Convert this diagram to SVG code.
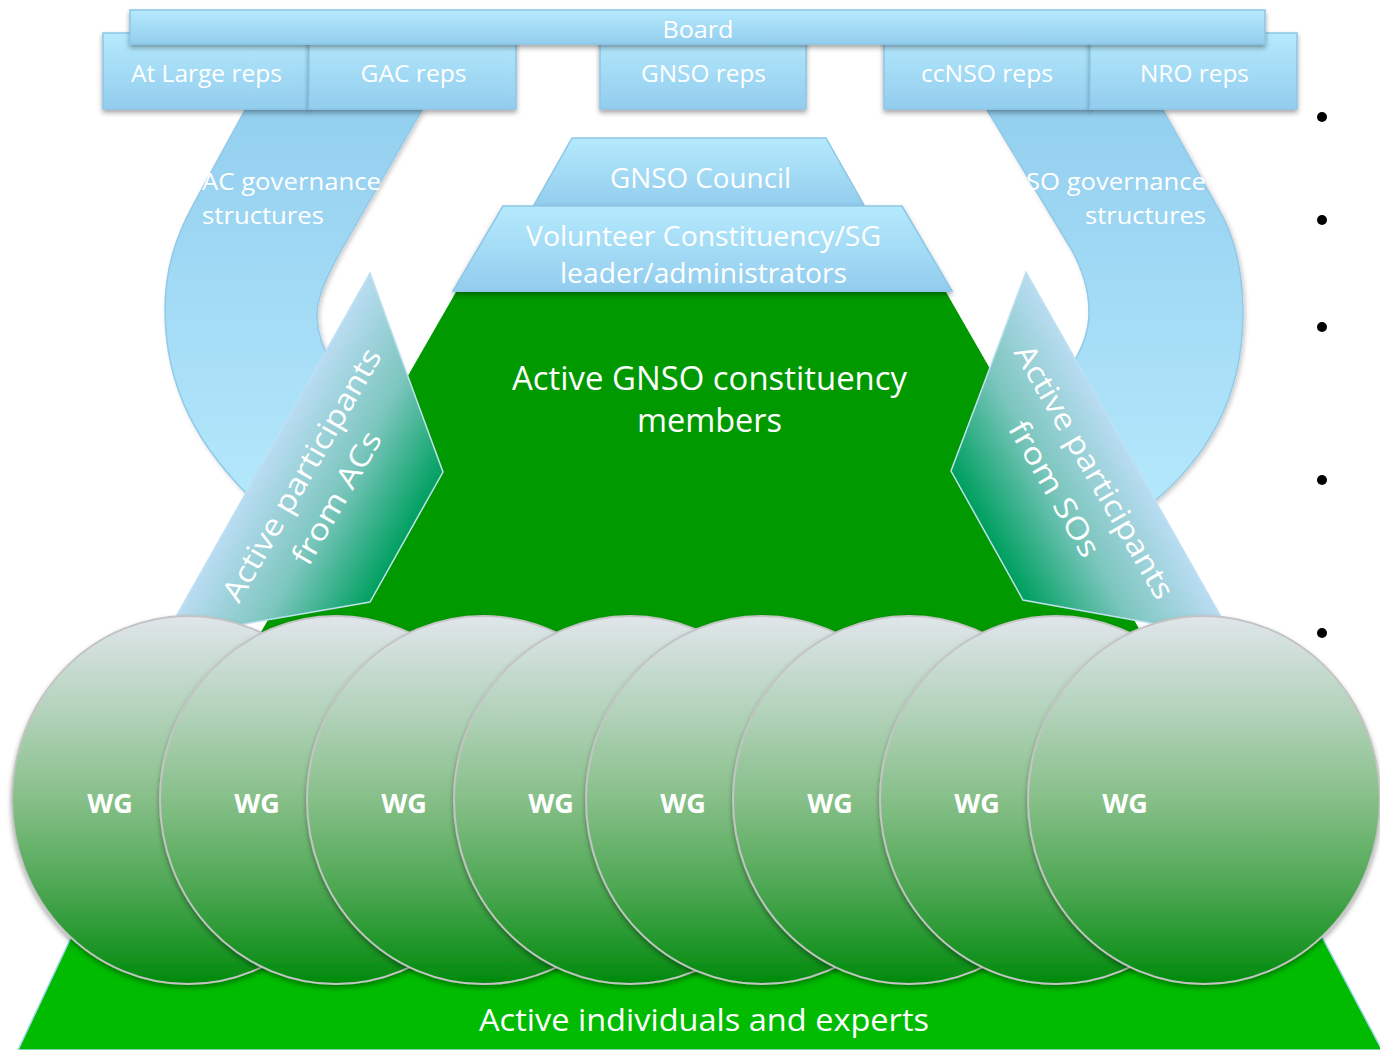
<svg xmlns="http://www.w3.org/2000/svg" width="1380" height="1050" viewBox="0 0 1380 1050">
<defs>
<style>
.t{font-family:"Open Sans","Liberation Sans",sans-serif;fill:#ffffff;}
.box{stroke:#8cc6e6;stroke-width:1.5;fill:url(#boxg);filter:url(#sh);}
.band{stroke:#93c9e8;stroke-width:1.5;filter:url(#sh2);}
.wg{fill:url(#wgg);stroke:#c4c4c4;stroke-width:2;filter:url(#sh);}
.wgt{font-family:"Open Sans","Liberation Sans",sans-serif;font-weight:bold;font-size:27px;fill:#ffffff;text-anchor:middle;}
.bul{fill:#000000;}
</style>
<linearGradient id="boxg" x1="0" y1="0" x2="0" y2="1">
<stop offset="0" stop-color="#b5eafd"/>
<stop offset="1" stop-color="#93cdee"/>
</linearGradient>
<linearGradient id="bandg" x1="0" y1="0" x2="0" y2="1">
<stop offset="0" stop-color="#93cfef"/>
<stop offset="1" stop-color="#b4e8fc"/>
</linearGradient>
<linearGradient id="wgg" x1="0" y1="0" x2="0" y2="1">
<stop offset="0" stop-color="#e0e6ea"/>
<stop offset="0.25" stop-color="#b4d3bc"/>
<stop offset="0.5" stop-color="#86bf88"/>
<stop offset="0.75" stop-color="#4aa650"/>
<stop offset="1" stop-color="#008a0c"/>
</linearGradient>
<linearGradient id="arrL" gradientUnits="userSpaceOnUse" x1="270" y1="450" x2="411" y2="529">
<stop offset="0" stop-color="#b9dcf2"/>
<stop offset="0.5" stop-color="#7cc6be"/>
<stop offset="1" stop-color="#00a060"/>
</linearGradient>
<linearGradient id="arrR" gradientUnits="userSpaceOnUse" x1="1127" y1="450" x2="986" y2="529">
<stop offset="0" stop-color="#b9dcf2"/>
<stop offset="0.5" stop-color="#7cc6be"/>
<stop offset="1" stop-color="#00a060"/>
</linearGradient>
<filter id="sh" x="-10%" y="-10%" width="125%" height="135%">
<feDropShadow dx="0" dy="3" stdDeviation="2.5" flood-color="#000000" flood-opacity="0.35"/>
</filter>
<filter id="sh2" x="-10%" y="-10%" width="125%" height="125%">
<feDropShadow dx="2" dy="2" stdDeviation="2" flood-color="#000000" flood-opacity="0.2"/>
</filter>
</defs>
<rect x="0" y="0" width="1380" height="1050" fill="#ffffff"/>

<g id="base-individuals">
<polygon points="192,680 1186,680 1382,1050 18,1050" fill="#00bb00" stroke="#a8d8f0" stroke-width="1.5"/>
</g>
<g id="gnso-members">
<polygon points="456,292 946,292 1180,700 222,700" fill="#009900"/>
</g>

<g id="ac-governance">
<path class="band" fill="url(#bandg)" d="M245,110 L422,110 L347,240 C325,278 316,300 317,318 C318,335 322,348 332,362 L300,450 L258,505 C200,450 165,390 165,310 C165,270 175,238 193,205 Z"/>
</g>
<g id="so-governance">
<path class="band" fill="url(#bandg)" d="M987,110 L1163,110 L1223,217 C1237,245 1243,275 1243,313 C1243,400 1205,460 1150,505 L1110,460 L1070,368 C1082,350 1089,330 1089,312 C1089,290 1082,268 1070,247 Z"/>
</g>

<g id="gnso-council">
<polygon points="572,138 826,138 864,205 534,205" fill="url(#boxg)" stroke="#8cc6e6" stroke-width="1.5"/>
</g>
<g id="volunteer-leaders">
<polygon points="503,206 902,206 952,291 453,291" fill="url(#boxg)" stroke="#8cc6e6" stroke-width="1.5" filter="url(#sh)"/>
</g>

<g id="ac-participants">
<polygon points="370,273 443,472 370,602 164,638" fill="url(#arrL)" stroke="#c0e0f2" stroke-width="1.5"/>
</g>
<g id="so-participants">
<polygon points="1026,272 1233,638 1023,600 951,471" fill="url(#arrR)" stroke="#c0e0f2" stroke-width="1.5"/>
</g>

<g id="reps">
<rect id="atlarge" class="box" x="103" y="33" width="206" height="76"/>
<rect id="gac" class="box" x="309" y="33" width="207" height="76"/>
<rect id="gnsoreps" class="box" x="600" y="33" width="206" height="76"/>
<rect id="ccnso" class="box" x="884" y="33" width="206" height="76"/>
<rect id="nro" class="box" x="1090" y="33" width="207" height="76"/>
</g>
<g id="board">
<rect class="box" x="130" y="10" width="1135" height="34"/>
</g>

<g id="wgs">
<ellipse class="wg" cx="188" cy="800" rx="176" ry="184"/>
<ellipse class="wg" cx="336" cy="800" rx="176" ry="184"/>
<ellipse class="wg" cx="483" cy="800" rx="176" ry="184"/>
<ellipse class="wg" cx="630" cy="800" rx="176" ry="184"/>
<ellipse class="wg" cx="762" cy="800" rx="176" ry="184"/>
<ellipse class="wg" cx="909" cy="800" rx="176" ry="184"/>
<ellipse class="wg" cx="1056" cy="800" rx="176" ry="184"/>
<ellipse class="wg" cx="1204" cy="800" rx="176" ry="184"/>
</g>

<g id="labels">
<text class="t" x="698" y="38" font-size="24" text-anchor="middle" textLength="71" lengthAdjust="spacingAndGlyphs">Board</text>
<text class="t" x="206.5" y="82" font-size="24.5" text-anchor="middle" textLength="151" lengthAdjust="spacingAndGlyphs">At Large reps</text>
<text class="t" x="413.5" y="82" font-size="24.5" text-anchor="middle" textLength="106" lengthAdjust="spacingAndGlyphs">GAC reps</text>
<text class="t" x="703.5" y="82" font-size="24.5" text-anchor="middle" textLength="125" lengthAdjust="spacingAndGlyphs">GNSO reps</text>
<text class="t" x="987" y="82" font-size="24.5" text-anchor="middle" textLength="132" lengthAdjust="spacingAndGlyphs">ccNSO reps</text>
<text class="t" x="1194.5" y="82" font-size="24.5" text-anchor="middle" textLength="109" lengthAdjust="spacingAndGlyphs">NRO reps</text>

<text class="t" x="202" y="190" font-size="24.5" textLength="179" lengthAdjust="spacingAndGlyphs">AC governance</text>
<text class="t" x="202" y="224" font-size="24.5" textLength="122" lengthAdjust="spacingAndGlyphs">structures</text>
<text class="t" x="1206" y="190" font-size="24.5" text-anchor="end" textLength="180" lengthAdjust="spacingAndGlyphs">SO governance</text>
<text class="t" x="1206" y="224" font-size="24.5" text-anchor="end" textLength="121" lengthAdjust="spacingAndGlyphs">structures</text>

<text class="t" x="700.5" y="188" font-size="28" text-anchor="middle" textLength="181" lengthAdjust="spacingAndGlyphs">GNSO Council</text>
<text class="t" x="703.5" y="246" font-size="27.5" text-anchor="middle" textLength="355" lengthAdjust="spacingAndGlyphs">Volunteer Constituency/SG</text>
<text class="t" x="703.5" y="283" font-size="27.5" text-anchor="middle" textLength="287" lengthAdjust="spacingAndGlyphs">leader/administrators</text>

<text class="t" x="709.5" y="390" font-size="32" text-anchor="middle" textLength="395" lengthAdjust="spacingAndGlyphs">Active GNSO constituency</text>
<text class="t" x="709.5" y="432" font-size="32" text-anchor="middle" textLength="145" lengthAdjust="spacingAndGlyphs">members</text>

<text class="t" font-size="30" text-anchor="middle" transform="translate(302,475) rotate(-60)" y="10" textLength="287" lengthAdjust="spacingAndGlyphs">Active participants</text>
<text class="t" font-size="30" text-anchor="middle" transform="translate(337,498) rotate(-60)" y="10" textLength="149" lengthAdjust="spacingAndGlyphs">from ACs</text>
<text class="t" font-size="30" text-anchor="middle" transform="translate(1094,472) rotate(60)" y="10" textLength="288" lengthAdjust="spacingAndGlyphs">Active participants</text>
<text class="t" font-size="30" text-anchor="middle" transform="translate(1054,489) rotate(60)" y="10" textLength="152" lengthAdjust="spacingAndGlyphs">from SOs</text>

<text class="wgt" x="110" y="813">WG</text>
<text class="wgt" x="257" y="813">WG</text>
<text class="wgt" x="404" y="813">WG</text>
<text class="wgt" x="551" y="813">WG</text>
<text class="wgt" x="683" y="813">WG</text>
<text class="wgt" x="830" y="813">WG</text>
<text class="wgt" x="977" y="813">WG</text>
<text class="wgt" x="1125" y="813">WG</text>

<text class="t" x="704" y="1031" font-size="30.5" text-anchor="middle" textLength="450" lengthAdjust="spacingAndGlyphs">Active individuals and experts</text>
</g>

<g id="bullets">
<circle class="bul" cx="1322" cy="117" r="5"/>
<circle class="bul" cx="1322" cy="220" r="5"/>
<circle class="bul" cx="1322" cy="327" r="5"/>
<circle class="bul" cx="1322" cy="480" r="5"/>
<circle class="bul" cx="1322" cy="633" r="5"/>
</g>
</svg>
